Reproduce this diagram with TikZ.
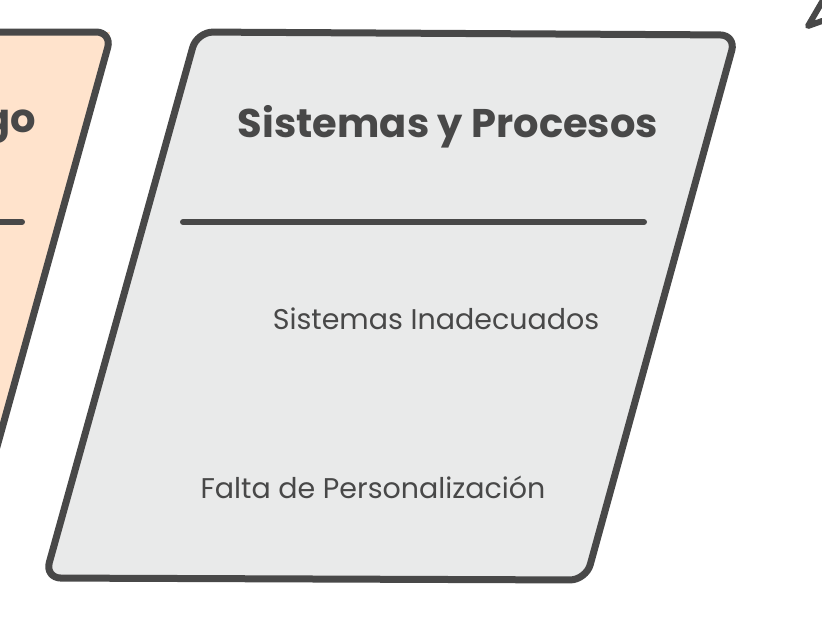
\documentclass[tikz,border=0pt]{standalone}
\usepackage{fontspec}
\setmainfont{Poppins}
\definecolor{ink}{HTML}{484848}
\definecolor{greyfill}{HTML}{E9EAEA}
\definecolor{orangefill}{HTML}{FFE3CC}
\tikzset{
  outline/.style={draw=ink, line width=7pt, rounded corners=16pt, line join=round},
  rule/.style={draw=ink, line width=6pt, line cap=round},
  title/.style={text=ink, font=\bfseries\fontsize{40}{44}\selectfont, inner sep=0pt},
  item/.style={text=ink, font=\fontsize{28.5}{32}\selectfont, inner sep=0pt},
}
\begin{document}
\begin{tikzpicture}[x=1pt,y=-1pt]
\useasboundingbox (0,0) rectangle (822,630);
% left orange (cut off)
\fill[orangefill] (-200,32) -- (110,32) -- (-40,580) -- (-200,580) -- cycle;
\draw[outline] (-200,32) -- (112,32) -- (-40,580);
\node[title, anchor=east] (t0) at (36,127) {go};
\draw[rule] (-20,222) -- (22,222);
% grey parallelogram
\coordinate (tl) at (197,32);
\coordinate (tr) at (736,35);
\coordinate (br) at (586,580);
\coordinate (bl) at (45,578);
\fill[greyfill, rounded corners=16pt] (tl) -- (tr) -- (br) -- (bl) -- cycle;
\draw[outline] (tl) -- (tr) -- (br) -- (bl) -- cycle;
\node[title] (t1) at (448,127) {Sistemas y Procesos};
\coordinate (ra) at (183,222);
\coordinate (rb) at (644,222);
\draw[rule] (ra) -- (rb);
\node[item] (i1) at (436,319) {Sistemas Inadecuados};
\node[item] (i2) at (373,487) {Falta de Personalización};
% partial mark at top right
\draw[ink, line width=6pt, line cap=round, line join=round] (822,2) -- (808,26) -- (822,21);
\end{tikzpicture}
\end{document}
